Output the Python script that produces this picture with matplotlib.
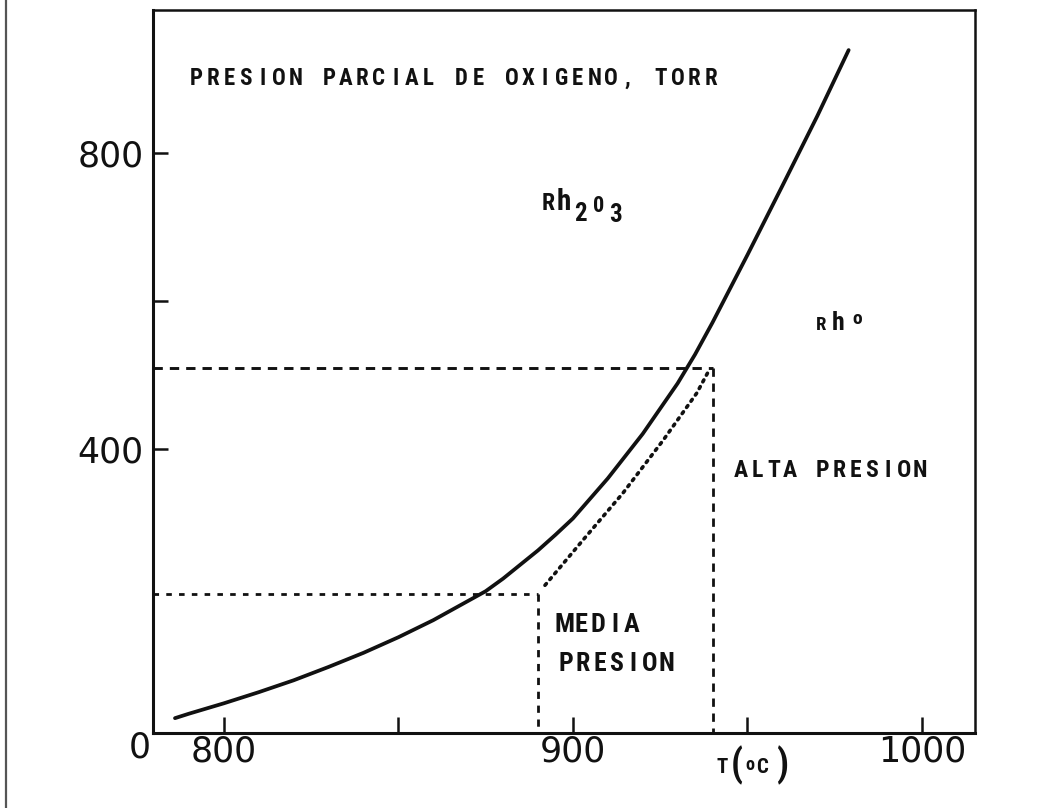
import matplotlib
matplotlib.use("Agg")
import matplotlib.pyplot as plt
from matplotlib.ticker import FixedLocator, FixedFormatter
from matplotlib.lines import Line2D

# Equilibrium curve Rh2O3 <-> Rh (temperature in C, oxygen pressure in torr)
curve_T = [786, 790, 800, 810, 820, 830, 840, 850, 860, 870, 875, 880,
           890, 895, 900, 910, 920, 930, 935, 940, 950, 960, 970, 979]
curve_P = [38, 44, 58, 73, 89, 107, 126, 147, 170, 196, 209, 226,
           264, 285, 307, 361, 421, 489, 528, 571, 662, 755, 849, 938]

# Dotted path between the two operating points
path_T = [892.0, 902.9, 914.3, 925.8, 935.5, 938.7]
path_P = [217, 278, 341, 412, 476, 504]

# Operating conditions
media_T, media_P = 890.0, 205.0
alta_T, alta_P = 940.0, 510.0

x_ticks = [800, 850, 900, 950, 1000]
x_labels = ["800", "", "900", "", "1000"]
y_ticks = [400, 600, 800]
y_labels = ["400", "", "800"]

W, H = 1037, 808
fig = plt.figure(figsize=(W / 100, H / 100), dpi=100)
fig.patch.set_facecolor("white")

def fx(x):
    return x / W

def fy(y):
    return 1 - y / H

ax = fig.add_axes([fx(153), fy(733), (975 - 153) / W, (733 - 10) / H])
ax.set_xlim(779.7, 1015.2)
ax.set_ylim(18, 992)

INK = "#111111"
ax.plot(curve_T, curve_P, color=INK, lw=2.7, solid_capstyle="round",
        solid_joinstyle="round")
ax.plot(path_T, path_P, color=INK, lw=2.6, linestyle=(0, (0.6, 1.5)),
        dash_capstyle="round")

x_lo, y_lo = ax.get_xlim()[0], ax.get_ylim()[0]
ax.plot([x_lo, alta_T], [alta_P, alta_P], color=INK, lw=2.1,
        linestyle=(0, (3.2, 2.4)))
ax.plot([alta_T, alta_T], [alta_P, y_lo], color=INK, lw=2.0,
        linestyle=(0, (3.0, 2.4)))
ax.plot([x_lo, media_T], [media_P, media_P], color=INK, lw=2.0,
        linestyle=(0, (2.0, 2.6)))
ax.plot([media_T, media_T], [media_P, y_lo], color=INK, lw=2.0,
        linestyle=(0, (2.6, 2.4)))

for side, w in (("left", 2.2), ("bottom", 2.2), ("top", 1.8), ("right", 1.8)):
    ax.spines[side].set_linewidth(w)
    ax.spines[side].set_color(INK)

ax.xaxis.set_major_locator(FixedLocator(x_ticks))
ax.xaxis.set_major_formatter(FixedFormatter(x_labels))
ax.yaxis.set_major_locator(FixedLocator(y_ticks))
ax.yaxis.set_major_formatter(FixedFormatter(y_labels))
ax.tick_params(axis="x", direction="in", length=11.5, width=1.8, color=INK,
               labelsize=25, pad=1, labelcolor=INK)
ax.tick_params(axis="y", direction="in", length=11, width=1.8, color=INK,
               labelsize=25, pad=7, labelcolor=INK)

# origin label at the corner
fig.text(fx(140), fy(748), "0", fontsize=25, color=INK, ha="center",
         va="center")

LETTER = ["Roboto Condensed", "DejaVu Sans"]
LKW = dict(family=LETTER, stretch="condensed", weight="black", color=INK,
           ha="center", va="baseline")

def lettered(s, x0, y_base, pitch, size):
    """Draw stencil-style lettering with a fixed pitch (pixels)."""
    for i, ch in enumerate(s):
        if ch == " ":
            continue
        fig.text(fx(x0 + i * pitch), fy(y_base), ch, fontsize=size, **LKW)

lettered("PRESION PARCIAL DE OXIGENO, TORR", 196, 85, 16.6, 16.5)
lettered("ALTA PRESION", 741, 477, 16.3, 17)
lettered("MEDIA", 564, 632, 17.0, 19)
lettered("PRESION", 566, 671, 16.7, 18.5)

# Rh2O3 label
fig.text(fx(548), fy(210), "R", fontsize=17, **LKW)
fig.text(fx(564), fy(210), "h", fontsize=21, **LKW)
fig.text(fx(580), fy(221), "2", fontsize=18, **LKW)
fig.text(fx(599), fy(212), "0", fontsize=16, **LKW)
fig.text(fx(616), fy(222), "3", fontsize=18, **LKW)

# Rh metal label
fig.text(fx(821), fy(330), "R", fontsize=13.5, **LKW)
fig.text(fx(838), fy(330), "h", fontsize=18.5, **LKW)
fig.text(fx(857), fy(324), "o", fontsize=14, **LKW)

# temperature axis title
fig.text(fx(722), fy(773), "T", fontsize=15, **LKW)
fig.text(fx(737), fy(776), "(", fontsize=27, family=LETTER,
         stretch="condensed", weight="bold", color=INK, ha="center",
         va="baseline")
fig.text(fx(750), fy(770), "o", fontsize=13, **LKW)
fig.text(fx(762), fy(773), "C", fontsize=15, **LKW)
fig.text(fx(782), fy(776), ")", fontsize=27, family=LETTER,
         stretch="condensed", weight="bold", color=INK, ha="center",
         va="baseline")

# page edge on the left
fig.add_artist(Line2D([fx(6), fx(6)], [0, 1], transform=fig.transFigure,
                      color="#555555", lw=1.6))

fig.savefig("out.png", dpi=100, facecolor="white")
